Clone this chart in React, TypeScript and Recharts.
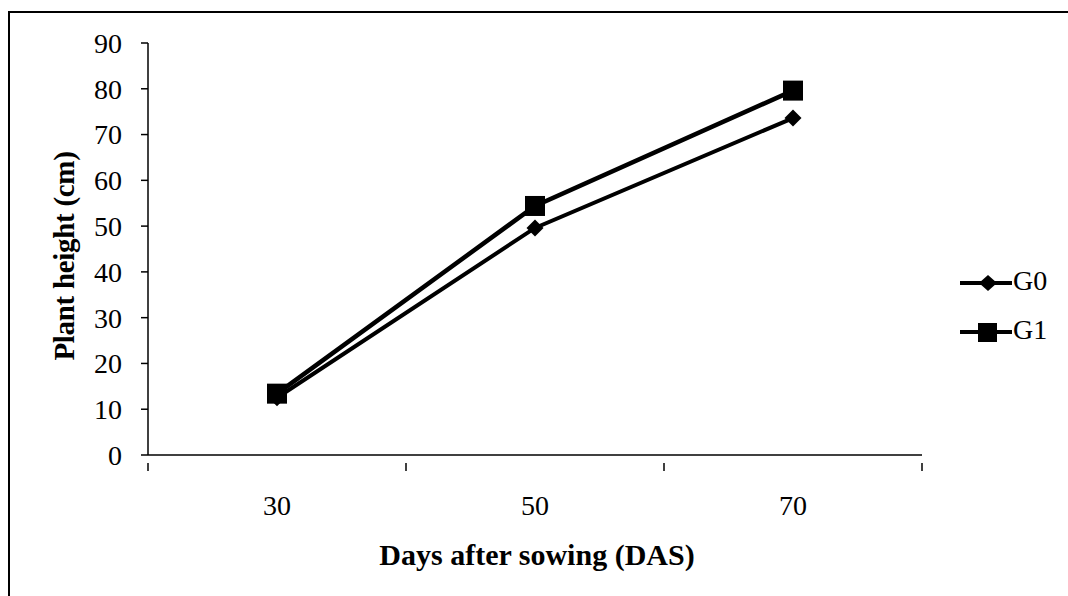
import { LineChart, Line, XAxis, YAxis, Legend } from 'recharts';

// Days after sowing
const days = [30, 50, 70];
// Plant height (cm)
const g0Heights = [12.5, 49.6, 73.6];
const g1Heights = [13.4, 54.4, 79.6];

const yTicks = [0, 10, 20, 30, 40, 50, 60, 70, 80, 90];
// category centres get labels, the boundaries between them get tick marks
const xTicks = [20, 30, 40, 50, 60, 70, 80];

const data = days.map((d, i) => ({ das: d, G0: g0Heights[i], G1: g1Heights[i] }));

const FONT = '"Liberation Serif", "Times New Roman", serif';

const DiamondDot = (props: any) => {
  const { cx, cy } = props;
  if (cx == null || cy == null) return null;
  const r = 8.5;
  return <path d={`M${cx},${cy - r}L${cx + r},${cy}L${cx},${cy + r}L${cx - r},${cy}Z`} fill="#000" />;
};

const SquareDot = (props: any) => {
  const { cx, cy } = props;
  if (cx == null || cy == null) return null;
  const h = 10;
  return <rect x={cx - h} y={cy - h} width={h * 2} height={h * 2} fill="#000" />;
};

const XTick = (props: any) => {
  const { x, y, payload } = props;
  const v = payload.value;
  if (days.includes(v)) {
    return (
      <text x={x} y={y + 46} textAnchor="middle" dominantBaseline="middle" fontFamily={FONT} fontSize={28} fill="#000">
        {v}
      </text>
    );
  }
  return <line x1={x} y1={y} x2={x} y2={y + 8} stroke="#000" strokeWidth={1.5} />;
};

const LegendContent = () => (
  <svg width={110} height={90}>
    {[
      { name: 'G0', dot: 'diamond', y: 23 },
      { name: 'G1', dot: 'square', y: 72 },
    ].map((it) => (
      <g key={it.name}>
        <line x1={2} y1={it.y} x2={54} y2={it.y} stroke="#000" strokeWidth={4} />
        {it.dot === 'diamond' ? (
          <path d={`M30,${it.y - 8}L39,${it.y}L30,${it.y + 8}L21,${it.y}Z`} fill="#000" />
        ) : (
          <rect x={20} y={it.y - 9} width={19} height={19} fill="#000" />
        )}
        <text x={55} y={it.y + 1} dominantBaseline="middle" fontFamily={FONT} fontSize={28} fill="#000">
          {it.name}
        </text>
      </g>
    ))}
  </svg>
);

export default function App() {
  return (
    <div style={{ position: 'absolute', left: 0, top: 0, width: 1068, height: 596, background: '#fff', overflow: 'hidden' }}>
      <div
        style={{
          position: 'absolute',
          left: 8,
          top: 11,
          width: 1080,
          height: 620,
          border: '2px solid #000',
        }}
      />
      <div style={{ position: 'absolute', left: 0, top: 0 }}>
        <LineChart width={1068} height={596} data={data} margin={{ top: 43, right: 36, bottom: 81, left: 88 }}>
          <XAxis
            dataKey="das"
            type="number"
            domain={[20, 80]}
            ticks={xTicks}
            interval={0}
            tickLine={false}
            tick={<XTick />}
            height={60}
            axisLine={{ stroke: '#000', strokeWidth: 1.5 }}
          />
          <YAxis
            domain={[0, 90]}
            ticks={yTicks}
            interval={0}
            width={60}
            tickSize={7}
            tickMargin={19}
            axisLine={{ stroke: '#000', strokeWidth: 1.5 }}
            tickLine={{ stroke: '#000', strokeWidth: 1.5 }}
            tick={{ fill: '#000', fontSize: 28, fontFamily: FONT }}
          />
          <Legend
            layout="vertical"
            verticalAlign="top"
            align="right"
            content={<LegendContent />}
            wrapperStyle={{ position: 'absolute', left: 958, top: 260, width: 110 }}
          />
          <Line dataKey="G0" stroke="#000" strokeWidth={4} dot={<DiamondDot />} isAnimationActive={false} />
          <Line dataKey="G1" stroke="#000" strokeWidth={4.5} dot={<SquareDot />} isAnimationActive={false} />
        </LineChart>
      </div>
      <div
        style={{
          position: 'absolute',
          left: 64,
          top: 256,
          transform: 'translate(-50%, -50%) rotate(-90deg)',
          whiteSpace: 'nowrap',
          fontFamily: FONT,
          fontWeight: 'bold',
          fontSize: 29,
          color: '#000',
          letterSpacing: -0.3,
        }}
      >
        Plant height (cm)
      </div>
      <div
        style={{
          position: 'absolute',
          left: 537,
          top: 555,
          transform: 'translate(-50%, -50%)',
          whiteSpace: 'nowrap',
          fontFamily: FONT,
          fontWeight: 'bold',
          fontSize: 30,
          color: '#000',
        }}
      >
        Days after sowing (DAS)
      </div>
    </div>
  );
}
